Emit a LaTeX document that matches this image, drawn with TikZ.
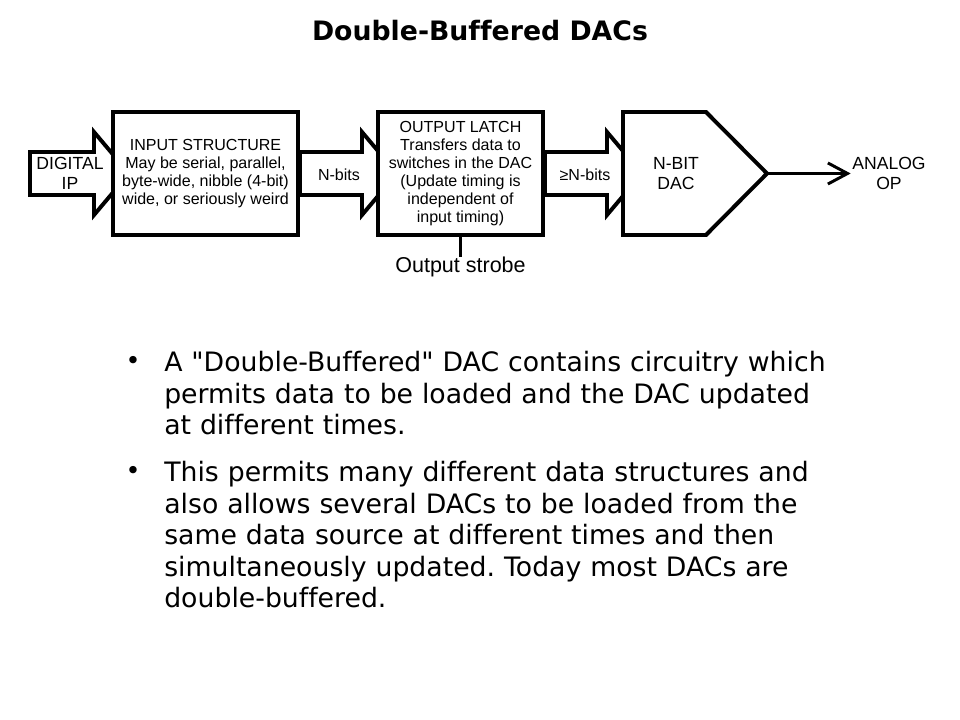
\documentclass[tikz,border=0pt]{standalone}
\usepackage{fontspec}
\setmainfont{Liberation Sans}
\newfontfamily\verdana[Ligatures=NoCommon]{DejaVu Sans}
\usepackage{tikz}
\usetikzlibrary{arrows.meta, positioning, calc, backgrounds}
\frenchspacing

\begin{document}
\begin{tikzpicture}[
    x=0.025cm, y=-0.025cm,
    every node/.style={font=\fontsize{11.4}{12.8}\selectfont, inner sep=0pt},
    block/.style={rectangle, draw, fill=white, line width=2.8pt, minimum width=#1, minimum height=3.075cm, align=center},
    outline/.style={draw, fill=white, line width=2.8pt},
    biglabel/.style={font=\fontsize{12.5}{14.2}\selectfont, align=center},
    bullettext/.style={font=\verdana\fontsize{19}{22.4}\selectfont, anchor=base west, text width=20cm, align=left},
    bulletdot/.style={font=\verdana\fontsize{18}{18}\selectfont},
    outarrow/.style={-{Straight Barb[length=14pt, width=15pt]}, line width=2.1pt}
]
\useasboundingbox (0,0) rectangle (960,720);
\node[font=\verdana\bfseries\fontsize{19}{22}\selectfont] (title) at (480,31) {Double-Buffered DACs};
\node[block=4.625cm] (instruct) at (205.5,173.5) {INPUT STRUCTURE\\May be serial, parallel,\\byte-wide, nibble (4-bit)\\wide, or seriously weird};
\node[block=4.125cm] (latch) at (460.5,173.5) {OUTPUT LATCH\\Transfers data to\\switches in the DAC\\(Update timing is\\independent of\\input timing)};
\draw[outline] (623,112) -- (706,112) -- (767,173.5) coordinate (dactip) -- (706,235) -- (623,235) -- cycle;
\node[biglabel] (dac) at (676,173.5) {N-BIT\\DAC};
\node[biglabel] (digital) at (70,173.5) {DIGITAL\\IP};
\node (nbits) at ($(instruct.east)+(39,1)$) {N-bits};
\node (mbits) at ($(latch.east)+(40,1)$) {≥N-bits};
\node[biglabel, inner sep=1pt] (analog) at (889,173.5) {ANALOG\\OP};
\node[font=\fontsize{15.3}{18}\selectfont] (strobe) at ($(latch.south)+(0,30)$) {Output strobe};
\draw[line width=2.8pt] (latch.south) -- (strobe.north);
\draw[outarrow] (dactip) -- (analog.west);
\begin{pgfonlayer}{background}
  \draw[outline] (instruct.west) ++(-17,-21.5) -- ++(-64,0) -- ++(0,43) -- ++(64,0) -- ++(0,20) -- ++(35,-41.5) -- ++(-35,-41.5) -- cycle;
  \foreach \src in {instruct,latch}
    \draw[outline] (\src.east) ++(0,-21.5) -- ++(62,0) -- ++(0,-20) -- ++(35,41.5) -- ++(-35,41.5) -- ++(0,-20) -- ++(-62,0) -- cycle;
\end{pgfonlayer}
\node[bulletdot] (dotA) at (133,363) {•};
\node[bullettext] (itemA) at (164,372) {A "Double-Buffered" DAC contains circuitry which\\permits data to be loaded and the DAC updated\\at different times.};
\node[bulletdot] (dotB) at (133,473) {•};
\node[bullettext] (itemB) at (164,482) {This permits many different data structures and\\also allows several DACs to be loaded from the\\same data source at different times and then\\simultaneously updated. Today most DACs are\\double-buffered.};
\end{tikzpicture}
\end{document}
